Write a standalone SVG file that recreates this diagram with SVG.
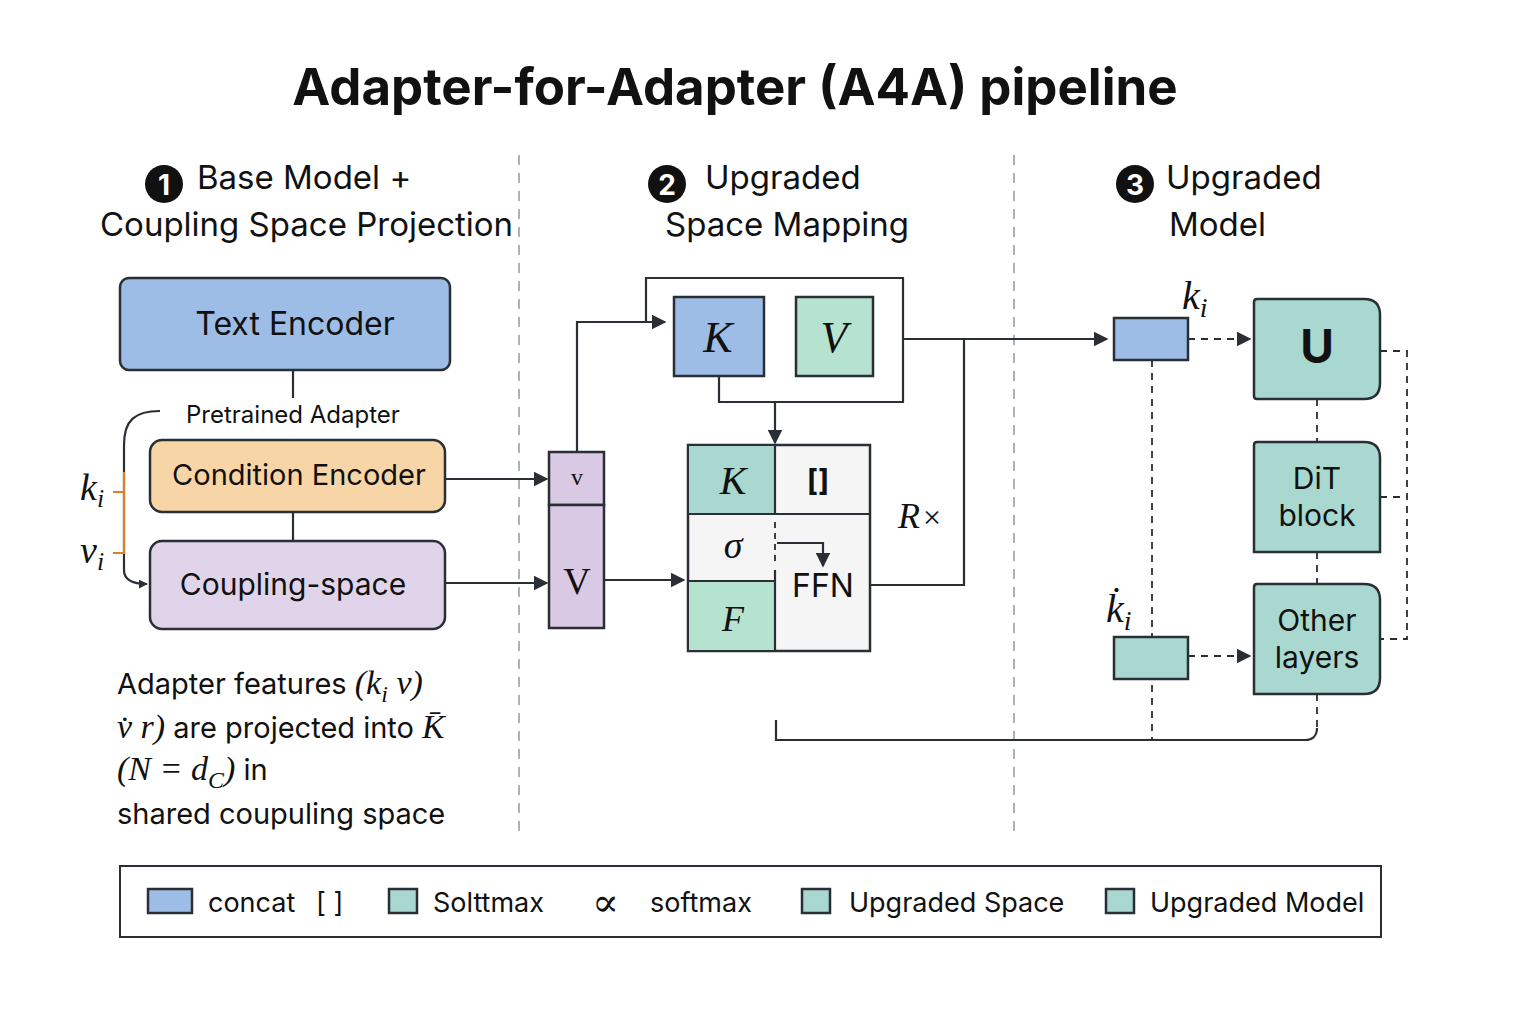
<svg xmlns="http://www.w3.org/2000/svg" width="1536" height="1024" viewBox="0 0 1536 1024">
<defs>
<marker id="ah" viewBox="0 0 10 10" refX="9" refY="5" markerWidth="9" markerHeight="9" orient="auto" markerUnits="userSpaceOnUse">
<path d="M0,0 L10,5 L0,10 z" fill="#2a2f36"/>
</marker>
<marker id="ahb" viewBox="0 0 10 10" refX="9" refY="5" markerWidth="15" markerHeight="15" orient="auto" markerUnits="userSpaceOnUse">
<path d="M0,0 L10,5 L0,10 z" fill="#2a2f36"/>
</marker>
<style>
.sans{font-family:Inter,"Liberation Sans","DejaVu Sans",sans-serif;fill:#111}
.math{font-family:"Liberation Serif","DejaVu Serif",serif;font-style:italic;fill:#111}
.box{stroke:#2a2f36;stroke-width:2.5}
.ln{stroke:#2a2f36;stroke-width:2.2;fill:none}
.dash{stroke:#2a2f36;stroke-width:1.8;fill:none;stroke-dasharray:7 6}
.div{stroke:#8f9aa6;stroke-width:1.5;stroke-dasharray:10 8}
.blue{fill:#9dbde6}
.teal{fill:#a8d8cf}
.green{fill:#b6e3cf}
</style>
</defs>
<rect width="1536" height="1024" fill="#ffffff"/>

<text class="sans" x="735" y="105" font-size="51" font-weight="700" text-anchor="middle">Adapter-for-Adapter (A4A) pipeline</text>

<line class="div" x1="519" y1="155" x2="519" y2="835"/>
<line class="div" x1="1014" y1="155" x2="1014" y2="835"/>

<g id="header1">
<circle cx="164" cy="184" r="19" fill="#111"/>
<text class="sans" x="164" y="195" font-size="28" font-weight="700" text-anchor="middle" style="fill:#fff">1</text>
<text class="sans" x="197" y="189" font-size="33">Base Model +</text>
<text class="sans" x="100" y="236" font-size="33">Coupling Space Projection</text>
</g>
<g id="header2">
<circle cx="667" cy="184" r="19" fill="#111"/>
<text class="sans" x="667" y="195" font-size="28" font-weight="700" text-anchor="middle" style="fill:#fff">2</text>
<text class="sans" x="705" y="189" font-size="33">Upgraded</text>
<text class="sans" x="665" y="236" font-size="33">Space Mapping</text>
</g>
<g id="header3">
<circle cx="1135" cy="184" r="19" fill="#111"/>
<text class="sans" x="1135" y="195" font-size="28" font-weight="700" text-anchor="middle" style="fill:#fff">3</text>
<text class="sans" x="1166" y="189" font-size="33">Upgraded</text>
<text class="sans" x="1169" y="236" font-size="33">Model</text>
</g>

<g id="connectors">
<line class="ln" x1="293" y1="370" x2="293" y2="398"/>
<line class="ln" x1="293" y1="512" x2="293" y2="541"/>
<path class="ln" d="M160,411 C135,411 124,420 124,445 V570 C124,580 132,584 147,584" marker-end="url(#ah)"/>
<line x1="124" y1="472" x2="124" y2="554" stroke="#d9822b" stroke-width="2.2"/>
<line x1="113" y1="492" x2="124" y2="492" stroke="#d9822b" stroke-width="2"/>
<line x1="113" y1="553" x2="124" y2="553" stroke="#d9822b" stroke-width="2"/>
<line class="ln" x1="445" y1="479" x2="547" y2="479" marker-end="url(#ahb)"/>
<line class="ln" x1="445" y1="583" x2="547" y2="583" marker-end="url(#ahb)"/>
<path class="ln" d="M577,452 V322 H665" marker-end="url(#ahb)"/>
<line class="ln" x1="604" y1="580" x2="684" y2="580" marker-end="url(#ahb)"/>
<line class="ln" x1="775" y1="402" x2="775" y2="443" marker-end="url(#ahb)"/>
<line class="ln" x1="903" y1="339" x2="1107" y2="339" marker-end="url(#ahb)"/>
<path class="ln" d="M964,339 V585 H870"/>
<path class="dash" d="M1188,339 H1250" marker-end="url(#ahb)"/>
<path class="dash" d="M1188,656 H1250" marker-end="url(#ahb)"/>
<line class="dash" x1="1152" y1="360" x2="1152" y2="740"/>
<line class="dash" x1="1317" y1="399" x2="1317" y2="442"/>
<line class="dash" x1="1317" y1="552" x2="1317" y2="584"/>
<path class="dash" d="M1317,694 V728"/>
<path class="ln" d="M776,720 V740 H1305 C1313,740 1317,735 1317,728"/>
<path class="dash" d="M1380,351 H1407 V639 H1380 M1380,497 H1407"/>
</g>

<g id="text-encoder">
<rect class="box blue" x="120" y="278" width="330" height="92" rx="9"/>
<text class="sans" x="295" y="335" font-size="32" text-anchor="middle">Text Encoder</text>
</g>
<g id="pretrained-label">
<text class="sans" x="186" y="423" font-size="24">Pretrained Adapter</text>
<text class="math" x="80" y="500" font-size="38">k<tspan font-size="26" dy="7">i</tspan></text>
<text class="math" x="80" y="563" font-size="38">v<tspan font-size="26" dy="7">i</tspan></text>
</g>
<g id="condition-encoder">
<rect class="box" x="150" y="440" width="295" height="72" rx="12" fill="#f7d5a6"/>
<text class="sans" x="299" y="485" font-size="29" text-anchor="middle">Condition Encoder</text>
</g>
<g id="coupling-space">
<rect class="box" x="150" y="541" width="295" height="88" rx="12" fill="#e0d4ea"/>
<text class="sans" x="293" y="595" font-size="30" text-anchor="middle">Coupling-space</text>
</g>

<g id="vV-column">
<rect class="box" x="549" y="452" width="55" height="53" fill="#d9c9e4"/>
<rect class="box" x="549" y="505" width="55" height="123" fill="#d9c9e4"/>
<text x="577" y="485" font-size="24" text-anchor="middle" font-family="Liberation Serif,serif" fill="#111">v</text>
<text x="577" y="594" font-size="38" text-anchor="middle" font-family="Liberation Serif,serif" fill="#111">V</text>
</g>

<g id="kv-block">
<path class="ln" d="M719,376 V402 H903 V278 H646 V322"/>
<rect class="box blue" x="674" y="297" width="90" height="79"/>
<text class="math" x="718" y="352" font-size="44" text-anchor="middle">K</text>
<rect class="box green" x="796" y="297" width="77" height="79"/>
<text class="math" x="834" y="352" font-size="44" text-anchor="middle">V</text>
</g>

<g id="attention-grid">
<rect class="box" x="688" y="445" width="182" height="206" fill="#f5f5f5"/>
<rect x="689" y="446" width="86" height="68" class="teal"/>
<rect x="689" y="581" width="86" height="69" class="green"/>
<line class="ln" x1="688" y1="514" x2="870" y2="514"/>
<line class="ln" x1="688" y1="581" x2="775" y2="581"/>
<line class="ln" x1="775" y1="445" x2="775" y2="514"/>
<line class="ln" x1="775" y1="570" x2="775" y2="651"/>
<line x1="775" y1="522" x2="775" y2="566" stroke="#2a2f36" stroke-width="1.8" stroke-dasharray="6 5"/>
<path class="ln" d="M777,543 H823 V566" marker-end="url(#ahb)"/>
<text class="math" x="733" y="494" font-size="40" text-anchor="middle">K</text>
<text class="sans" x="818" y="491" font-size="30" font-weight="700" text-anchor="middle">[]</text>
<text class="math" x="733" y="558" font-size="38" text-anchor="middle">σ</text>
<text class="math" x="733" y="631" font-size="36" text-anchor="middle">F</text>
<text class="sans" x="823" y="597" font-size="32" text-anchor="middle">FFN</text>
<text class="math" x="898" y="528" font-size="36">R<tspan font-style="normal" font-size="32" dx="3">×</tspan></text>
</g>

<g id="ki-top">
<rect class="box blue" x="1114" y="318" width="74" height="42"/>
<text class="math" x="1182" y="309" font-size="40">k<tspan font-size="28" dy="8">i</tspan></text>
</g>
<g id="ki-bottom">
<rect class="box teal" x="1114" y="637" width="74" height="42"/>
<text class="math" x="1106" y="622" font-size="40">k̇<tspan font-size="28" dy="8">i</tspan></text>
</g>
<g id="U">
<path class="box teal" d="M1257,299 H1364 Q1380,299 1380,315 V383 Q1380,399 1364,399 H1257 Q1254,399 1254,396 V302 Q1254,299 1257,299 Z"/>
<text class="sans" x="1317" y="363" font-size="46" font-weight="700" text-anchor="middle">U</text>
</g>
<g id="DiT">
<path class="box teal" d="M1257,442 H1364 Q1380,442 1380,458 V552 H1254 V445 Q1254,442 1257,442 Z"/>
<text class="sans" x="1317" y="489" font-size="30" text-anchor="middle">DiT</text>
<text class="sans" x="1317" y="526" font-size="30" text-anchor="middle">block</text>
</g>
<g id="other-layers">
<path class="box teal" d="M1257,584 H1364 Q1380,584 1380,600 V678 Q1380,694 1364,694 H1254 V587 Q1254,584 1257,584 Z"/>
<text class="sans" x="1317" y="631" font-size="30" text-anchor="middle">Other</text>
<text class="sans" x="1317" y="668" font-size="30" text-anchor="middle">layers</text>
</g>

<g id="description">
<text class="sans" x="117" y="694" font-size="29">Adapter features <tspan class="math" font-size="34">(k<tspan font-size="24" dy="8">i</tspan><tspan dy="-8"> v)</tspan></tspan></text>
<text class="sans" x="117" y="738" font-size="29"><tspan class="math" font-size="34">v̇ r)</tspan> are projected into <tspan class="math" font-size="34">K̄</tspan></text>
<text class="sans" x="117" y="780" font-size="29"><tspan class="math" font-size="34">(N = d<tspan font-size="24" dy="8">C</tspan><tspan dy="-8">)</tspan></tspan> in</text>
<text class="sans" x="117" y="824" font-size="29">shared coupuling space</text>
</g>

<g id="legend">
<rect x="120" y="866" width="1261" height="71" fill="#fff" stroke="#2a2f36" stroke-width="2"/>
<rect class="box blue" x="148" y="889" width="44" height="24" stroke-width="2"/>
<text class="sans" x="208" y="912" font-size="27">concat</text>
<text class="sans" x="316" y="912" font-size="27">[ ]</text>
<rect class="box teal" x="389" y="889" width="28" height="24" stroke-width="2"/>
<text class="sans" x="433" y="912" font-size="27">Solttmax</text>
<text class="math" x="592" y="916" font-size="40">∝</text>
<text class="sans" x="650" y="912" font-size="27">softmax</text>
<rect class="box teal" x="802" y="889" width="28" height="24" stroke-width="2"/>
<text class="sans" x="849" y="912" font-size="27">Upgraded Space</text>
<rect class="box teal" x="1106" y="889" width="28" height="24" stroke-width="2"/>
<text class="sans" x="1150" y="912" font-size="27">Upgraded Model</text>
</g>
</svg>
